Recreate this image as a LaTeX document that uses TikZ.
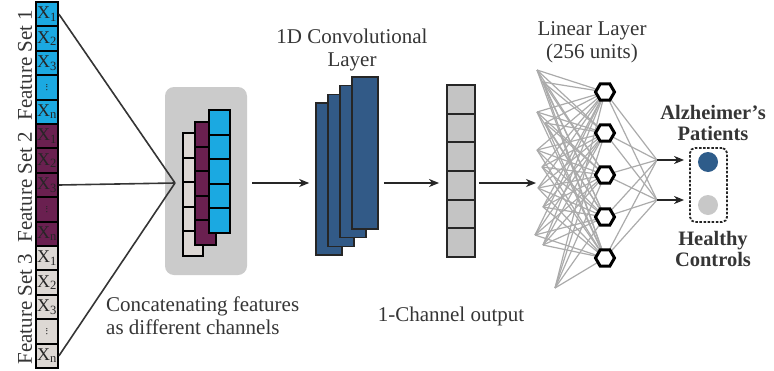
\documentclass[tikz,border=0pt]{standalone}
\usepackage{fontspec}
\setmainfont{Liberation Serif}
\usetikzlibrary{shapes.geometric,arrows.meta,calc}

\definecolor{featblue}{HTML}{1BA9E1}
\definecolor{featpurple}{HTML}{6A2050}
\definecolor{featbeige}{HTML}{DDD8D4}
\definecolor{convblue}{HTML}{325A87}
\definecolor{outgray}{HTML}{C4C4C4}
\definecolor{panelgray}{HTML}{CBCBCB}
\definecolor{txt}{HTML}{353535}
\definecolor{netgray}{HTML}{ABABAB}
\definecolor{dotblue}{HTML}{2E5C8A}
\definecolor{dotgray}{HTML}{C8C8C8}

\begin{document}
\begin{tikzpicture}[x=1pt,y=-1pt,
  every node/.style={text=txt},
  lbl/.style={font=\fontsize{21}{23}\selectfont, align=center, inner sep=0pt},
  boldlbl/.style={font=\bfseries\fontsize{20.5}{20.5}\selectfont, align=center, inner sep=0pt},
  fcell/.style={draw=black, line width=1.9pt, minimum width=22pt, minimum height=24.4pt,
    inner sep=0pt, font=\fontsize{18}{18}\selectfont, text=black!85},
  scell/.style={draw=black, line width=1.9pt, minimum width=20.5pt, minimum height=24.6pt, inner sep=0pt},
  ocell/.style={draw=black!85, line width=1.9pt, fill=outgray, minimum width=28pt, minimum height=28.67pt, inner sep=0pt},
  convrect/.style={draw=black!85, line width=1.6pt, fill=convblue, minimum width=26pt, minimum height=152pt, inner sep=0pt},
  hexnode/.style={regular polygon, regular polygon sides=6, draw=black, line width=3pt, fill=white,
    minimum size=19pt, inner sep=0pt},
  dot/.style={circle, minimum size=20pt, inner sep=0pt},
  fanline/.style={draw=txt, line width=1.6pt},
  netline/.style={draw=netgray, line width=1.2pt},
  arr/.style={draw=black!85, line width=1.5pt, -{Stealth[length=10pt,width=8pt,inset=3pt]}}
]
\useasboundingbox (0,0) rectangle (774,370);

% feature column: three sets of five cells
\foreach \s/\col in {1/featblue,2/featpurple,3/featbeige}{
  \foreach \c/\lab in {1/{X\textsubscript{1}},2/{X\textsubscript{2}},3/{X\textsubscript{3}},
                      4/{\rotatebox{90}{\fontsize{11}{11}\selectfont...}},5/{X\textsubscript{n}}}{
    \node[fcell, fill=\col] (f\s c\c) at (47,{2+24.4*((\s-1)*5+\c-1)+12.2}) {\lab};
  }
}
\node[lbl, rotate=90] (fs1) at (25,65) {Feature Set 1};
\node[lbl, rotate=90] (fs2) at (25,187) {Feature Set 2};
\node[lbl, rotate=90] (fs3) at (25,309) {Feature Set 3};

% concatenation panel
\node[fill=panelgray, rounded corners=9pt, minimum width=82pt, minimum height=188pt, inner sep=0pt] (concat) at (206,181) {};
\coordinate (apex) at (175,183);
\draw[fanline] (f1c1.east) -- (apex);
\draw[fanline] (f2c3.east) -- (apex);
\draw[fanline] (f3c5.east) -- (apex);

\foreach \k/\col/\x/\y in {0/featbeige/193/133, 1/featpurple/205.5/122, 2/featblue/219.5/110}{
  \foreach \c in {1,...,5}{
    \node[scell, fill=\col] (s\k c\c) at (\x,{\y+24.6*(\c-1)+12.3}) {};
  }
}
\node[lbl, align=left, anchor=west] (concatlbl) at (106,316) {Concatenating features\\as different channels};

% 1D convolutional layer
\foreach \k in {1,...,4}{
  \node[convrect] (conv\k) at ({329+12*(\k-1)},{179-8.7*(\k-1)}) {};
}
\node[lbl] (convlbl) at (352,50) {1D Convolutional\\Layer};

% one-channel output
\foreach \c in {1,...,6}{
  \node[ocell] (o\c) at (461,{85+28.67*(\c-1)+14.33}) {};
}
\node[lbl] (outlbl) at (451,316) {1-Channel output};

% arrows along the main axis
\coordinate (axis) at (0,183);
\draw[arr] ([xshift=5pt]axis -| concat.east) -- ([xshift=-6pt]axis -| conv1.west);
\draw[arr] ([xshift=5pt]axis -| conv4.east) -- ([xshift=-7pt]axis -| o1.west);
\draw[arr] ([xshift=3pt]axis -| o1.east) -- (axis -| 536,0);

% linear layer: free input ends fully connected to five units
\foreach \i/\y in {1/92,2/133,3/175,4/217,5/258}{
  \coordinate (h\i) at (605,\y);
}
\foreach \i/\x/\y in {1/537/70,2/543/82,3/537/112,4/545/123,5/537/150,6/542/167,
                     7/538/188,8/543/207,9/535/235,10/543/245,11/555/288}{
  \coordinate (in\i) at (\x,\y);
}
\foreach \i in {1,...,11}{
  \foreach \j in {1,...,5}{
    \draw[netline] (in\i) -- (h\j);
  }
}
\coordinate (j1) at (657,160);
\coordinate (j2) at (657,200);
\foreach \j in {1,...,5}{
  \draw[netline] (h\j) -- (j1);
  \draw[netline] (h\j) -- (j2);
}
% units drawn above their connections
\foreach \i/\y in {1/92,2/133,3/175,4/217,5/258}{
  \node[hexnode] (hx\i) at (h\i) {};
}
\node[lbl] (linlbl) at (592,42) {Linear Layer\\(256 units)};

% output classes
\node[draw=black!85, dashed, dash pattern=on 2.5pt off 1.6pt, line width=1.8pt, rounded corners=5pt,
  minimum width=37pt, minimum height=74pt, inner sep=0pt] (outbox) at (708.5,185) {};
\node[dot, fill=dotblue] (pa) at (708,162) {};
\node[dot, fill=dotgray] (hc) at (708,205) {};
\draw[arr] (j1) -- ([xshift=-5pt]j1 -| outbox.west);
\draw[arr] (j2) -- ([xshift=-5pt]j2 -| outbox.west);
\node[boldlbl] (palbl) at (713,123) {Alzheimer's\\Patients};
\node[boldlbl] (hclbl) at (713,249) {Healthy\\Controls};
\end{tikzpicture}
\end{document}
